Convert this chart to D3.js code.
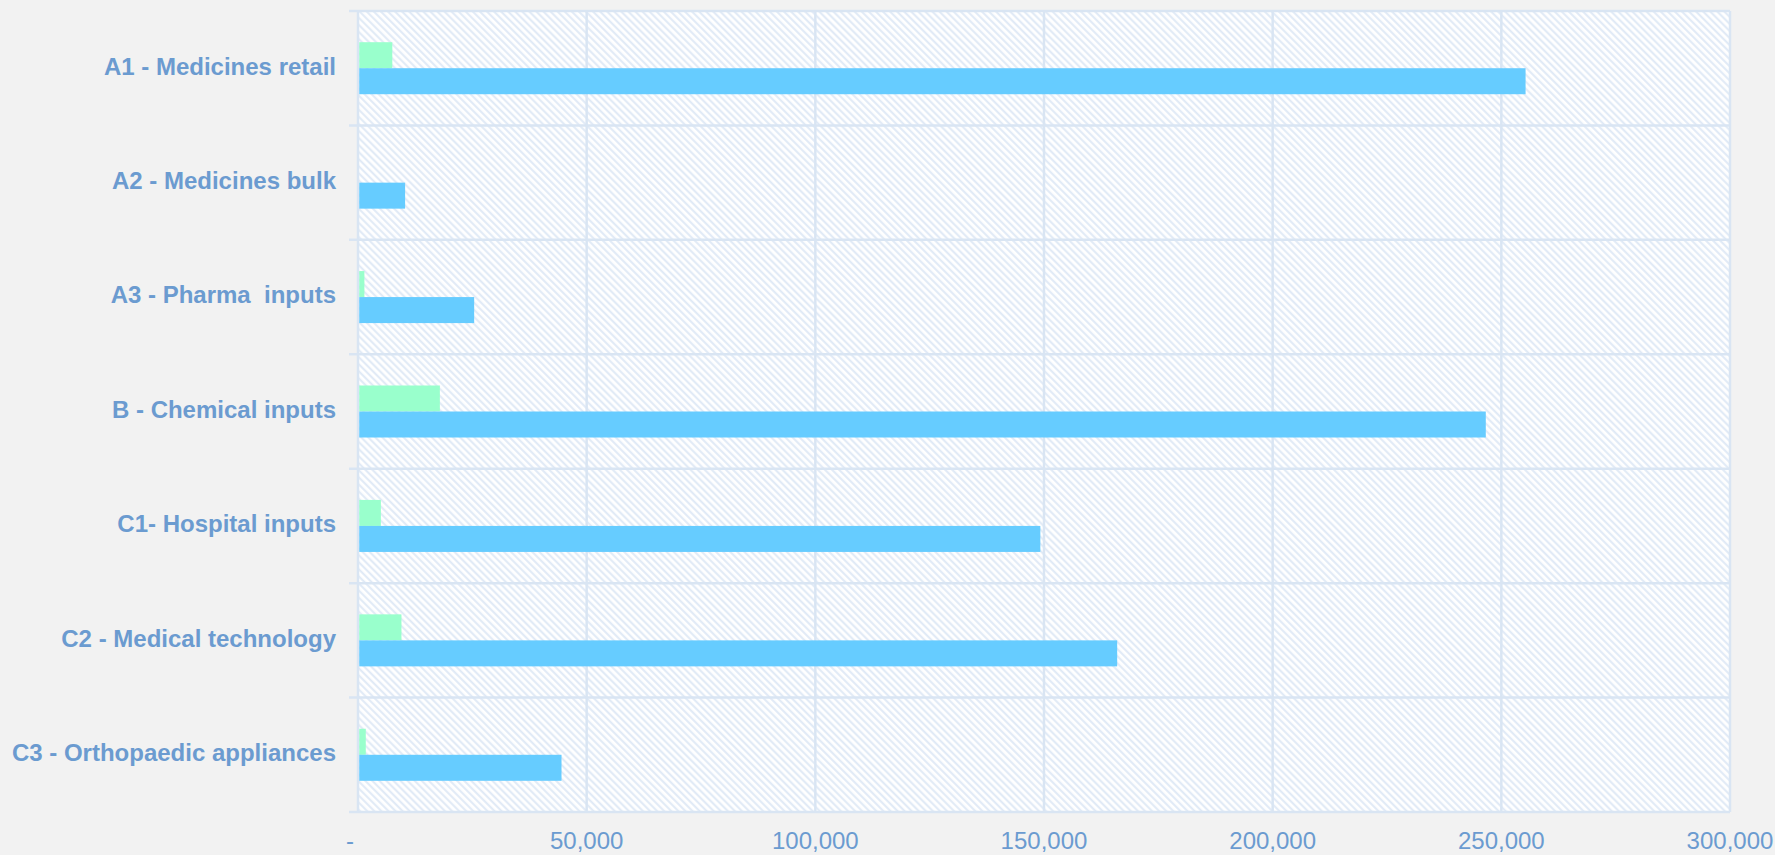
<!DOCTYPE html>
<html>
<head>
<meta charset="utf-8">
<script src="https://cdn.jsdelivr.net/npm/d3@7"></script>
<style>
  html, body { margin: 0; padding: 0; background: #f2f2f2; }
  svg { display: block; }
  text { white-space: pre; }
</style>
</head>
<body>
<svg id="chart" width="1775" height="855"></svg>
<script>
const categories = [
  "A1 - Medicines retail",
  "A2 - Medicines bulk",
  "A3 - Pharma  inputs",
  "B - Chemical inputs",
  "C1- Hospital inputs",
  "C2 - Medical technology",
  "C3 - Orthopaedic appliances"
];
const seriesNames = ["Series A", "Series B"];
const seriesAValues = [7500, 0, 1400, 17900, 5000, 9500, 1700];
const seriesBValues = [255300, 10300, 25400, 246600, 149200, 166000, 44500];
const tickValues = [0, 50000, 100000, 150000, 200000, 250000, 300000];
const tickLabels = ["-", "50,000", "100,000", "150,000", "200,000", "250,000", "300,000"];
const seriesColors = ["#99ffcc", "#66ccff"];

const svg = d3.select("#chart");
const W = 1775, H = 855;
const margin = { left: 358, right: 45, top: 11, bottom: 43 };
const x0 = margin.left, x1 = W - margin.right, y0 = margin.top, y1 = H - margin.bottom;

const x = d3.scaleLinear().domain([0, 300000]).range([x0, x1]);
const y = d3.scaleBand().domain(categories).range([y0, y1]).paddingInner(0).paddingOuter(0);
const ySub = d3.scaleBand().domain(seriesNames).range([0, y.bandwidth()]).paddingInner(0).paddingOuter(1.2);

const gridColor = "#d9e5f3";
const textColor = "#6b9bd0";

// hatch pattern
const defs = svg.append("defs");
const pat = defs.append("pattern")
  .attr("id", "hatch")
  .attr("patternUnits", "userSpaceOnUse")
  .attr("width", 5).attr("height", 5)
  .attr("patternTransform", "rotate(-45)");
pat.append("rect").attr("width", 5).attr("height", 5).attr("fill", "#ffffff");
pat.append("line").attr("x1", 1.2).attr("y1", 0).attr("x2", 1.2).attr("y2", 5)
  .attr("stroke", "#dfe9f6").attr("stroke-width", 2);

svg.append("rect")
  .attr("x", x0).attr("y", y0).attr("width", x1 - x0).attr("height", y1 - y0)
  .attr("fill", "url(#hatch)");

// vertical gridlines
svg.append("g").selectAll("line").data(tickValues).join("line")
  .attr("x1", d => x(d)).attr("x2", d => x(d))
  .attr("y1", y0).attr("y2", y1)
  .attr("stroke", gridColor).attr("stroke-width", 2.5);

// horizontal band boundaries (extend left as ticks)
const boundaries = categories.map(c => y(c)).concat([y1]);
svg.append("g").selectAll("line").data(boundaries).join("line")
  .attr("x1", x0 - 9).attr("x2", x1)
  .attr("y1", d => d).attr("y2", d => d)
  .attr("stroke", gridColor).attr("stroke-width", 2.5);

// bars
const rows = categories.map((c, i) => ({ c, vals: [seriesAValues[i], seriesBValues[i]] }));
const g = svg.append("g");
rows.forEach(r => {
  r.vals.forEach((v, j) => {
    if (v <= 0) return;
    g.append("rect")
      .attr("x", x(0) + 1.25)
      .attr("y", y(r.c) + ySub(seriesNames[j]))
      .attr("width", Math.max(0, x(v) - x(0) - 1.25))
      .attr("height", ySub.bandwidth())
      .attr("fill", seriesColors[j]);
  });
});

// category labels
svg.append("g").selectAll("text").data(categories).join("text")
  .attr("x", x0 - 22)
  .attr("y", d => y(d) + y.bandwidth() / 2 - 2)
  .attr("dy", "0.35em")
  .attr("text-anchor", "end")
  .attr("font-family", "Liberation Sans, Arial, sans-serif")
  .attr("font-weight", "bold")
  .attr("font-size", 24)
  .attr("fill", textColor)
  .text(d => d);

// x tick labels
svg.append("g").selectAll("text").data(tickValues).join("text")
  .attr("x", (d, i) => x(d) + (i === 0 ? -8 : 0))
  .attr("y", y1 + 37)
  .attr("text-anchor", "middle")
  .attr("font-family", "Liberation Sans, Arial, sans-serif")
  .attr("font-size", 24)
  .attr("fill", textColor)
  .text((d, i) => tickLabels[i]);
</script>
</body>
</html>
